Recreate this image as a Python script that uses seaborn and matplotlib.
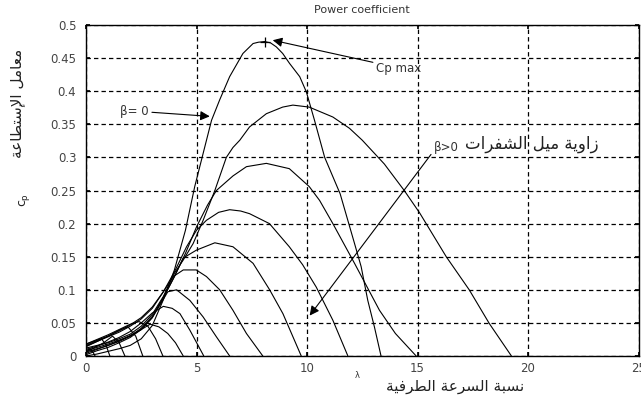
import matplotlib
matplotlib.use("Agg")
import matplotlib.pyplot as plt
import seaborn as sns

# ---- power coefficient curves (tip speed ratio, Cp) ----
beta0_tsr = [0, 0.5, 1, 1.5, 2, 2.5, 3, 3.5, 4, 4.5, 4.92, 5.3, 5.68, 6.05, 6.5, 7.1, 7.56, 7.8,
             8.08, 8.35, 8.61, 8.9, 9.21, 9.67, 9.97, 10.34, 10.8, 11.5, 12.15, 12.45, 12.75,
             13.05, 13.35]
beta0_cp = [0.0, 0.003, 0.007, 0.011, 0.016, 0.026, 0.046, 0.085, 0.13, 0.19, 0.256, 0.306, 0.356,
            0.387, 0.422, 0.457, 0.472, 0.474, 0.475, 0.473, 0.467, 0.457, 0.442, 0.422, 0.399,
            0.356, 0.3, 0.245, 0.17, 0.135, 0.084, 0.044, 0.0]

curve_b_tsr = [0, 0.5, 1, 1.5, 2, 2.5, 3, 3.5, 4, 4.4, 4.85, 5.3, 5.83, 6.35, 6.65, 6.96, 7.4, 8.16,
               8.9, 9.36, 10.1, 11.17, 11.92, 12.5, 13.5, 14.4, 15.1, 16.3, 17.34, 18.25, 19.25]
curve_b_cp = [0.012, 0.016, 0.02, 0.026, 0.033, 0.045, 0.063, 0.09, 0.125, 0.145, 0.17, 0.205, 0.25,
              0.3, 0.315, 0.326, 0.346, 0.366, 0.376, 0.379, 0.376, 0.361, 0.344, 0.326, 0.29, 0.25,
              0.216, 0.15, 0.1, 0.049, 0.0]

curve_c_tsr = [0, 0.5, 1, 1.5, 2, 2.5, 3, 3.5, 4, 4.5, 5.0, 5.5, 5.9, 6.65, 7.26, 8.16, 9.2, 10.1,
               10.57, 11.17, 12.15, 13.28, 14.0, 14.94]
curve_c_cp = [0.008, 0.013, 0.018, 0.024, 0.03, 0.04, 0.058, 0.088, 0.12, 0.155, 0.195, 0.228, 0.25,
              0.272, 0.286, 0.291, 0.283, 0.256, 0.235, 0.2, 0.14, 0.069, 0.034, 0.0]

curve_d_tsr = [0, 0.5, 1, 1.5, 2, 2.5, 3, 3.5, 4, 4.55, 5.0, 5.45, 6.0, 6.5, 7.0, 7.4, 8.3, 9.2,
               9.8, 10.42, 11.17, 11.85]
curve_d_cp = [0.018, 0.024, 0.03, 0.038, 0.047, 0.058, 0.074, 0.097, 0.127, 0.165, 0.19, 0.205,
              0.217, 0.221, 0.219, 0.215, 0.2, 0.165, 0.138, 0.104, 0.054, 0.0]

curve_e_tsr = [0, 0.5, 1, 1.5, 2, 2.5, 3, 3.5, 4, 4.4, 5.0, 5.83, 6.65, 7.56, 8.31, 8.91, 9.74]
curve_e_cp = [0.004, 0.01, 0.016, 0.022, 0.03, 0.042, 0.06, 0.088, 0.12, 0.148, 0.16, 0.171, 0.165,
              0.14, 0.1, 0.064, 0.0]

curve_f_tsr = [0, 0.5, 1, 1.5, 2, 2.5, 3, 3.5, 3.95, 4.4, 4.99, 5.45, 6.05, 6.65, 7.26, 8.0]
curve_f_cp = [0.015, 0.022, 0.029, 0.036, 0.045, 0.056, 0.072, 0.097, 0.12, 0.13, 0.13, 0.12, 0.1,
              0.069, 0.034, 0.0]

curve_g_tsr = [0, 0.5, 1, 1.5, 2, 2.5, 3, 3.4, 3.7, 4.1, 4.7, 5.3, 5.9, 6.5]
curve_g_cp = [0.002, 0.008, 0.013, 0.02, 0.028, 0.04, 0.058, 0.08, 0.097, 0.1, 0.084, 0.059, 0.029, 0.0]

curve_h_tsr = [0, 0.5, 1, 1.5, 2, 2.5, 3, 3.5, 3.9, 4.25, 4.7, 5.33]
curve_h_cp = [0.01, 0.015, 0.021, 0.028, 0.037, 0.05, 0.065, 0.075, 0.072, 0.064, 0.039, 0.0]

curve_i_tsr = [0, 0.5, 1, 1.5, 2, 2.5, 2.9, 3.3, 3.7, 4.05, 4.4]
curve_i_cp = [0.006, 0.011, 0.016, 0.023, 0.031, 0.04, 0.048, 0.044, 0.034, 0.02, 0.0]

curve_j_tsr = [0, 0.5, 1, 1.5, 2, 2.4, 2.8, 3.15, 3.48]
curve_j_cp = [0.018, 0.025, 0.032, 0.04, 0.048, 0.052, 0.045, 0.026, 0.0]

curve_k_tsr = [0, 0.5, 1, 1.5, 1.9, 2.25, 2.57]
curve_k_cp = [0.014, 0.022, 0.03, 0.039, 0.044, 0.03, 0.0]

curve_l_tsr = [0, 0.4, 0.8, 1.2, 1.5, 1.76]
curve_l_cp = [0.006, 0.013, 0.02, 0.03, 0.02, 0.0]

curve_m_tsr = [0, 0.4, 0.7, 0.9, 1.08]
curve_m_cp = [0.016, 0.022, 0.026, 0.017, 0.0]

curve_n_tsr = [0, 0.2, 0.3, 0.41]
curve_n_cp = [0.008, 0.011, 0.007, 0.0]

curves = [(beta0_tsr, beta0_cp), (curve_b_tsr, curve_b_cp), (curve_c_tsr, curve_c_cp),
          (curve_d_tsr, curve_d_cp), (curve_e_tsr, curve_e_cp), (curve_f_tsr, curve_f_cp),
          (curve_g_tsr, curve_g_cp), (curve_h_tsr, curve_h_cp), (curve_i_tsr, curve_i_cp),
          (curve_j_tsr, curve_j_cp), (curve_k_tsr, curve_k_cp), (curve_l_tsr, curve_l_cp),
          (curve_m_tsr, curve_m_cp), (curve_n_tsr, curve_n_cp)]

cp_max_point = (8.08, 0.475)

x_ticks = [0, 5, 10, 15, 20, 25]
x_tick_labels = ["0", "5", "10", "15", "20", "25"]
y_ticks = [0, 0.05, 0.1, 0.15, 0.2, 0.25, 0.3, 0.35, 0.4, 0.45, 0.5]
y_tick_labels = ["0", "0.05", "0.1", "0.15", "0.2", "0.25", "0.3", "0.35", "0.4", "0.45", "0.5"]

title_text = "Power coefficient"
ylabel_ar = "معامل الإستطاعة"
xlabel_ar = "نسبة السرعة الطرفية"
pitch_ar = "زاوية ميل الشفرات"

# ---- minimal Arabic shaping into presentation forms (iso, fin, ini, med) ----
FORMS = {
    'ا': ('\uFE8D', '\uFE8E', None, None),
    'إ': ('\uFE87', '\uFE88', None, None),
    'ب': ('\uFE8F', '\uFE90', '\uFE91', '\uFE92'),
    'ة': ('\uFE93', '\uFE94', None, None),
    'ت': ('\uFE95', '\uFE96', '\uFE97', '\uFE98'),
    'ر': ('\uFEAD', '\uFEAE', None, None),
    'ز': ('\uFEAF', '\uFEB0', None, None),
    'س': ('\uFEB1', '\uFEB2', '\uFEB3', '\uFEB4'),
    'ش': ('\uFEB5', '\uFEB6', '\uFEB7', '\uFEB8'),
    'ط': ('\uFEC1', '\uFEC2', '\uFEC3', '\uFEC4'),
    'ع': ('\uFEC9', '\uFECA', '\uFECB', '\uFECC'),
    'ف': ('\uFED1', '\uFED2', '\uFED3', '\uFED4'),
    'ل': ('\uFEDD', '\uFEDE', '\uFEDF', '\uFEE0'),
    'م': ('\uFEE1', '\uFEE2', '\uFEE3', '\uFEE4'),
    'ن': ('\uFEE5', '\uFEE6', '\uFEE7', '\uFEE8'),
    'و': ('\uFEED', '\uFEEE', None, None),
    'ي': ('\uFEF1', '\uFEF2', '\uFEF3', '\uFEF4'),
    'لا': ('\uFEFB', '\uFEFC', None, None),
    'لإ': ('\uFEF9', '\uFEFA', None, None),
}


def shape_arabic(text):
    units = []
    i = 0
    while i < len(text):
        if text[i] == 'ل' and i + 1 < len(text) and text[i + 1] in 'اإ':
            units.append(text[i:i + 2])
            i += 2
        else:
            units.append(text[i])
            i += 1
    out = []
    for k, u in enumerate(units):
        if u not in FORMS:
            out.append(u)
            continue
        iso, fin, ini, med = FORMS[u]
        prev = units[k - 1] if k > 0 else None
        nxt = units[k + 1] if k + 1 < len(units) else None
        join_prev = prev in FORMS and FORMS[prev][2] is not None
        join_next = ini is not None and nxt in FORMS
        if join_prev and join_next:
            out.append(med)
        elif join_prev:
            out.append(fin)
        elif join_next:
            out.append(ini)
        else:
            out.append(iso)
    return ''.join(reversed(out))


sns.set_theme(style="white")
plt.rcParams['font.family'] = ['DejaVu Sans']

fig = plt.figure(figsize=(6.41, 4.03), dpi=100)
ax = fig.add_axes([86 / 641, 1 - 356 / 403, 552.5 / 641, 331 / 403])

for tsr, cp in curves:
    sns.lineplot(x=tsr, y=cp, ax=ax, color='black', linewidth=0.8, sort=False, estimator=None)

ax.plot([cp_max_point[0]], [cp_max_point[1]], marker='+', color='black', markersize=7, mew=0.9)

ax.set_xlim(0, 25)
ax.set_ylim(0, 0.5)
ax.set_xticks(x_ticks)
ax.set_xticklabels(x_tick_labels)
ax.set_yticks(y_ticks)
ax.set_yticklabels(y_tick_labels)
ax.tick_params(axis='both', labelsize=8.5, labelcolor='#444444', direction='in', length=3,
               color='black', top=True, right=True, bottom=True, left=True)
ax.tick_params(axis='y', pad=7)
ax.tick_params(axis='x', pad=4)
ax.grid(True, color='black', linestyle=(0, (3.5, 2.5)), linewidth=0.9)
for s in ax.spines.values():
    s.set_color('black')
    s.set_linewidth(1.0)

# annotations
arrow_kw = dict(arrowstyle='-|>', color='black', lw=0.8, mutation_scale=14, shrinkA=0, shrinkB=0)
ax.annotate("Cp max", xy=(8.45, 0.477), xytext=(13.13, 0.435), fontsize=8.5, color='#333333',
            va='center', ha='left', arrowprops=arrow_kw)
ax.annotate("β= 0", xy=(5.6, 0.362), xytext=(1.54, 0.37), fontsize=8.5, color='#333333',
            va='center', ha='left', arrowprops=arrow_kw)
ax.annotate("β>0", xy=(10.12, 0.061), xytext=(15.76, 0.315), fontsize=8.5, color='#333333',
            va='center', ha='left', arrowprops=dict(arrow_kw, relpos=(0, 0.3)))
ax.text(17.15, 0.32, shape_arabic(pitch_ar), fontsize=12, color='#222222', va='center', ha='left')

fig.text(362 / 641, 1 - 10 / 403, title_text, fontsize=8, color='#333333', ha='center', va='center')
fig.text(455 / 641, 1 - 386 / 403, shape_arabic(xlabel_ar), fontsize=11, color='#222222',
         ha='center', va='center')
fig.text(357 / 641, 1 - 376 / 403, "λ", fontsize=6, color='#333333', ha='center', va='center')
fig.text(18 / 641, 1 - 103 / 403, shape_arabic(ylabel_ar), fontsize=11, color='#222222',
         ha='center', va='center', rotation=90)
fig.text(24 / 641, 1 - 200 / 403, r"$\mathregular{c_p}$", fontsize=9, color='#222222',
         ha='center', va='center', rotation=90)

fig.savefig("out.png", dpi=100, facecolor='white')
